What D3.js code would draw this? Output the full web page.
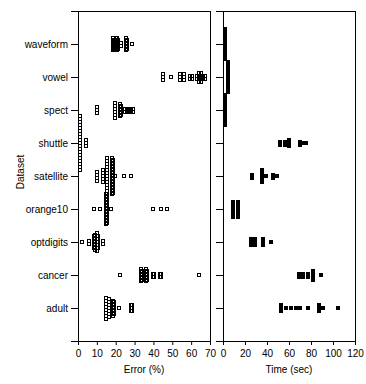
<!DOCTYPE html>
<html><head><meta charset="utf-8">
<script src="https://cdn.jsdelivr.net/npm/d3@7"></script>
<style>
body{margin:0;background:#fff}
svg{display:block}
text{font-family:"Liberation Sans Narrow","Liberation Sans",Arial,sans-serif;font-size:10px;fill:#000}
</style></head><body>
<svg id="c" width="366" height="384"></svg>
<script>
const categories = ["waveform","vowel","spect","shuttle","satellite","orange10","optdigits","cancer","adult"];
const errorTicks = [0,10,20,30,40,50,60,70];
const timeTicks = [0,20,40,60,80,100,120];

// Error (%) per dataset
const errWaveform = [18.6,18.6,18.6,18.6,18.6,19.1,19.1,19.1,19.1,19.6,19.6,19.6,19.6,20.2,20.2,20.2,20.2,20.2,20.7,20.7,20.7,20.7,20.7,21.2,21.2,21.2,21.2,22.8,22.8,25.5,25.5,25.5,25.5,25.5,26.0,26.0,26.0,26.0,28.6];
const errVowel = [45.1,45.1,45.1,49.3,54.1,54.1,54.1,56.2,56.2,56.2,59.4,59.4,60.4,60.4,63.1,63.1,64.2,64.2,64.2,64.2,65.2,65.2,65.2,65.2,66.3,66.3,67.3,67.3];
const errSpect = [10.1,10.1,10.1,19.6,19.6,19.6,19.6,19.6,19.6,22.3,22.3,22.3,22.3,22.3,22.8,22.8,22.8,22.8,24.9,24.9,26.0,26.0,27.0,27.0,28.1,28.1,29.2,29.2];
const errShuttle = [1.1,1.1,1.1,1.1,1.1,1.1,1.1,1.1,1.1,1.1,1.1,1.1,1.1,1.1,1.1,1.1,1.1,1.1,1.1,4.2,4.2,4.2];
const errSatellite = [10.1,10.1,10.1,10.1,13.3,13.3,13.3,13.3,13.3,15.4,15.4,15.4,15.4,15.4,15.4,15.4,15.4,15.4,15.4,15.4,15.4,15.4,18.0,18.0,18.0,18.0,18.0,18.0,18.0,18.0,18.0,18.0,18.0,18.0,18.0,18.6,18.6,18.6,18.6,18.6,18.6,18.6,18.6,18.6,18.6,18.6,18.6,19.6,24.4,28.1];
const errOrange10 = [8.5,11.7,14.9,14.9,14.9,14.9,14.9,14.9,14.9,14.9,14.9,14.9,14.9,15.4,15.4,15.4,15.4,15.4,15.4,15.4,15.4,15.4,15.4,17.5,39.8,44.0,47.2];
const errOptdigits = [2.1,5.8,5.8,8.5,8.5,8.5,8.5,8.5,9.0,9.0,9.0,9.0,9.0,9.0,10.1,10.1,10.1,10.1,10.1,10.1,10.1,10.6,10.6,10.6,10.6,10.6,13.3,13.3];
const errCancer = [22.3,33.4,33.4,33.4,33.4,33.4,33.9,33.9,33.9,33.9,36.1,36.1,36.1,36.1,36.1,36.6,36.6,36.6,36.6,39.8,39.8,40.3,40.3,43.5,43.5,44.0,44.0,64.2];
const errAdult = [14.9,14.9,14.9,14.9,14.9,14.9,14.9,14.9,16.4,16.4,16.4,16.4,16.4,16.4,16.4,18.6,18.6,18.6,18.6,18.6,18.6,19.1,19.1,19.1,19.1,19.1,21.7,28.1,28.1,28.1,28.6,28.6,28.6];

// Time (sec) per dataset
const timeWaveform = [1.8,1.8,1.8,1.8,1.8,1.8,1.8,1.8,1.8,1.8,1.8];
const timeVowel = [4.5,4.5,4.5,4.5,4.5,4.5,4.5,4.5,4.5,4.5,4.5];
const timeSpect = [1.8,1.8,1.8,1.8,1.8,1.8,1.8,1.8,1.8,1.8,1.8];
const timeShuttle = [51.8,51.8,56.4,56.4,60.0,60.0,60.0,70.0,70.0,73.6,75.5];
const timeSatellite = [26.4,26.4,35.5,35.5,35.5,35.5,35.5,39.1,45.5,45.5,49.1];
const timeOrange10 = [9.1,9.1,9.1,9.1,9.1,9.1,13.6,13.6,13.6,13.6,13.6,13.6];
const timeOptdigits = [25.5,25.5,25.5,29.1,29.1,29.1,36.4,36.4,36.4,43.6];
const timeCancer = [69.1,69.1,72.7,72.7,77.3,77.3,81.8,81.8,81.8,81.8,89.1];
const timeAdult = [52.7,52.7,52.7,57.3,61.8,66.4,70.0,77.3,87.3,87.3,87.3,90.9,104.5];

const errorData = [errWaveform,errVowel,errSpect,errShuttle,errSatellite,errOrange10,errOptdigits,errCancer,errAdult];
const timeData = [timeWaveform,timeVowel,timeSpect,timeShuttle,timeSatellite,timeOrange10,timeOptdigits,timeCancer,timeAdult];

const svg = d3.select("#c");
const yTop = 11, yBottom = 341;
const y = d3.scalePoint().domain(categories).range([44, 308]);
const xErr = d3.scaleLinear().domain([0,70]).range([78,210]);
const xTime = d3.scaleLinear().domain([0,120]).range([223,355]);

function stack(values, x, cat){
  const groups = d3.groups(values, v => Math.round(x(v)));
  const pts = [];
  const cy = y(cat);
  groups.forEach(([px, vs]) => {
    const n = vs.length;
    vs.forEach((v,k) => {
      const off = (k - (n-1)/2) * 3;
      pts.push({px, top: Math.round(cy + off) - 2});
    });
  });
  return pts;
}

function panel(x, ticks, showLabels, title){
  const [x0, x1] = x.range();
  const g = svg.append("g");
  const line = (a,b,c,d) => g.append("line").attr("x1",a).attr("y1",b).attr("x2",c).attr("y2",d)
      .attr("stroke","#000").attr("stroke-width",1).attr("shape-rendering","crispEdges");
  line(x0-7, yTop+0.5, x1+1, yTop+0.5);
  line(x0-7, yBottom+0.5, x1+1, yBottom+0.5);
  line(x0+0.5, yTop, x0+0.5, yBottom+1);
  line(x1+0.5, yTop, x1+0.5, yBottom+1);

  const ax = g.append("g").attr("transform",`translate(0,${yBottom})`)
    .call(d3.axisBottom(x).tickValues(ticks).tickSize(4).tickPadding(5).tickSizeOuter(0));
  ax.select(".domain").remove();
  ax.selectAll("text").attr("font-size",null).attr("font-family",null);

  const ay = g.append("g").attr("transform",`translate(${x0},0)`)
    .call(d3.axisLeft(y).tickSize(7).tickSizeOuter(0).tickFormat(showLabels ? d => d : () => ""));
  ay.select(".domain").remove();
  ay.selectAll("text").attr("font-size",null).attr("font-family",null);

  g.append("text").attr("x",(x0+x1)/2).attr("y",373).attr("text-anchor","middle").text(title);
  return g;
}

const gL = panel(xErr, errorTicks, true, "Error (%)");
const gR = panel(xTime, timeTicks, false, "Time (sec)");

categories.forEach((cat,i) => {
  gL.selectAll(null).data(stack(errorData[i], xErr, cat)).join("rect")
    .attr("x", d => d.px - 2 + 0.5).attr("y", d => d.top + 0.5)
    .attr("width",3).attr("height",3)
    .attr("fill","none").attr("stroke","#000").attr("stroke-width",1)
    .attr("shape-rendering","crispEdges");
  gR.selectAll(null).data(stack(timeData[i], xTime, cat)).join("rect")
    .attr("x", d => d.px - 2).attr("y", d => d.top)
    .attr("width",4).attr("height",4)
    .attr("fill","#000").attr("shape-rendering","crispEdges");
});

svg.append("text").attr("transform","translate(24,172) rotate(-90)")
  .attr("text-anchor","middle").text("Dataset");
</script></body></html>
